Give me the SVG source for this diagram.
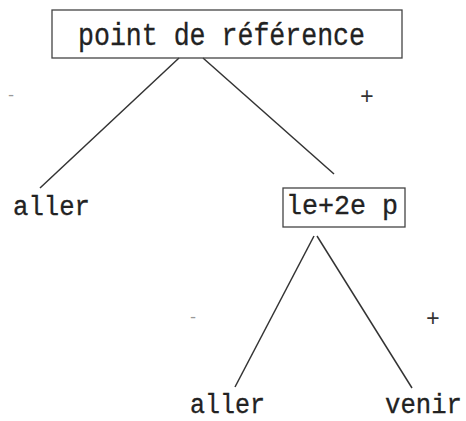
<svg xmlns="http://www.w3.org/2000/svg" width="466" height="421" viewBox="0 0 466 421">
<style>
.t{font-family:"Liberation Mono","Courier New",monospace;font-size:27px;fill:#222;stroke:#222;stroke-width:0.3}
.big{font-size:31px}
.box{fill:none;stroke:#444;stroke-width:1.3}
.ln{stroke:#333;stroke-width:1.5;fill:none}
.sg{font-family:"Liberation Mono",monospace;fill:#333;font-size:23px;text-anchor:middle}
.mi{font-family:"Liberation Mono",monospace;fill:#999;font-size:16px;text-anchor:middle}
</style>
<rect width="466" height="421" fill="#fff"/>
<g id="connectors">
<line class="ln" x1="179" y1="58" x2="40" y2="188"/>
<line class="ln" x1="203" y1="58" x2="334" y2="174"/>
<line class="ln" x1="314" y1="236" x2="235" y2="387"/>
<line class="ln" x1="317" y1="236" x2="412" y2="388"/>
<text class="mi" x="11" y="100">-</text>
<text class="sg" x="367" y="104">+</text>
<text class="mi" x="193" y="322">-</text>
<text class="sg" x="433" y="326">+</text>
</g>
<g id="root">
<rect class="box" x="52" y="10" width="350" height="48"/>
<text class="t big" x="78" y="45" textLength="287" lengthAdjust="spacingAndGlyphs">point de référence</text>
</g>
<g id="aller1">
<text class="t" x="13" y="215" textLength="77" lengthAdjust="spacingAndGlyphs">aller</text>
</g>
<g id="le2ep">
<rect class="box" x="283" y="188" width="122" height="39"/>
<text class="t" x="286" y="214" textLength="112" lengthAdjust="spacingAndGlyphs">le+2e p</text>
</g>
<g id="aller2">
<text class="t" x="190" y="413" textLength="75" lengthAdjust="spacingAndGlyphs">aller</text>
</g>
<g id="venir">
<text class="t" x="385" y="413" textLength="77" lengthAdjust="spacingAndGlyphs">venir</text>
</g>
</svg>
